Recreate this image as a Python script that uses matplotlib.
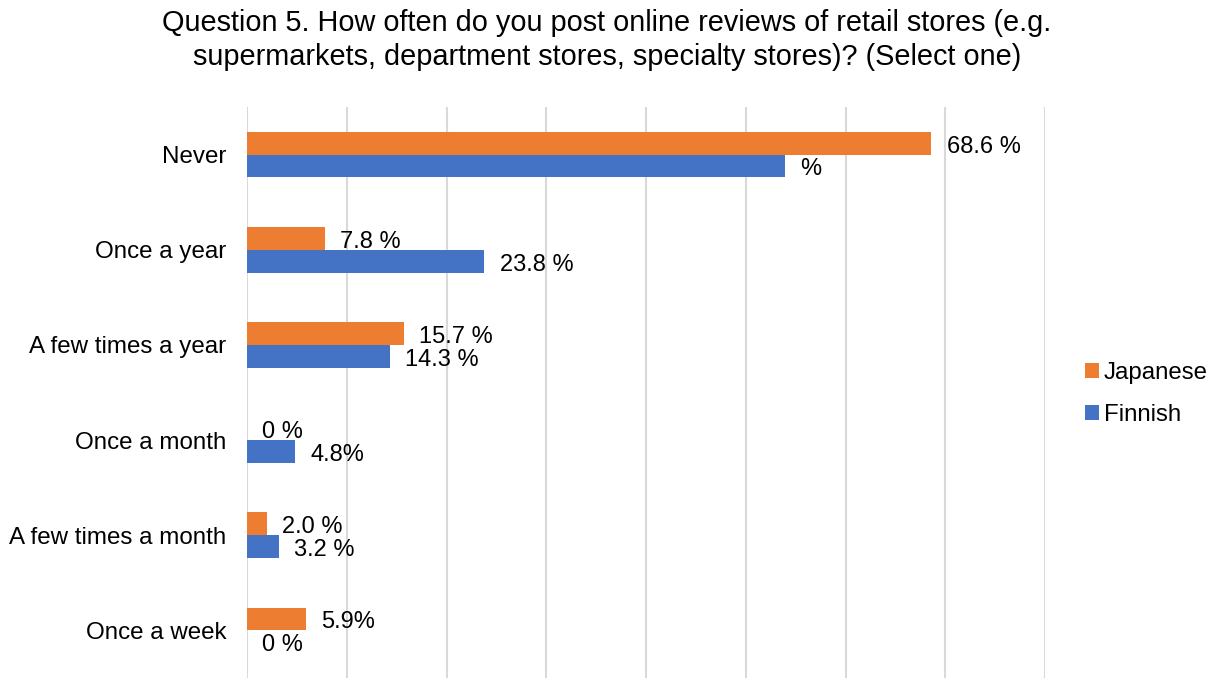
import matplotlib
matplotlib.use("Agg")
import matplotlib.pyplot as plt
import numpy as np

plt.rcParams['font.family'] = ['Liberation Sans', 'DejaVu Sans']

# respuestas a la pregunta 5
categorias = ["Never", "Once a year", "A few times a year", "Once a month",
              "A few times a month", "Once a week"]
japoneses = [68.6, 7.8, 15.7, 0.0, 2.0, 5.9]
finlandeses = [53.9, 23.8, 14.3, 4.8, 3.2, 0.0]

# etiquetas tal como aparecen en el grafico
etiquetas_jp = ["68.6 %", "7.8 %", "15.7 %", "0 %", "2.0 %", "5.9%"]
etiquetas_fi = ["%", "23.8 %", "14.3 %", "4.8%", "3.2 %", "0 %"]

naranja = "#ED7D31"
azul = "#4472C4"

fig = plt.figure(figsize=(12.14, 6.78), dpi=100)
ax = fig.add_axes([247 / 1214, 0.0, (1045 - 247) / 1214, 1 - 107 / 678])

y = np.arange(len(categorias))
alto = 0.24

ax.barh(y - alto / 2, japoneses, height=alto, color=naranja, label="Japanese", zorder=3)
ax.barh(y + alto / 2, finlandeses, height=alto, color=azul, label="Finnish", zorder=3)

# etiquetas de datos al final de cada barra
for i in range(len(categorias)):
    ax.annotate(etiquetas_jp[i], (japoneses[i], y[i] - alto / 2), xytext=(11, -2.5),
                textcoords="offset points", va="center", ha="left", fontsize=17)
    ax.annotate(etiquetas_fi[i], (finlandeses[i], y[i] + alto / 2), xytext=(11, -2.5),
                textcoords="offset points", va="center", ha="left", fontsize=17)

ax.set_xlim(0, 80)
ax.set_ylim(len(categorias) - 0.5, -0.5)
ax.set_xticks(np.arange(0, 81, 10))
ax.xaxis.grid(True, color="#D9D9D9", linewidth=1.5, zorder=0)
ax.tick_params(axis="x", labelbottom=False, length=0)
ax.tick_params(axis="y", length=0, pad=15)
ax.set_yticks(y)
ax.set_yticklabels(categorias, fontsize=17.4)
for lado in ["top", "right", "bottom", "left"]:
    ax.spines[lado].set_visible(False)

fig.text(0.5, 1 - 40 / 678,
         "Question 5. How often do you post online reviews of retail stores (e.g.\n"
         "supermarkets, department stores, specialty stores)? (Select one)",
         fontsize=20.8, ha="center", va="center", linespacing=1.25)

fig.legend(loc="center left", bbox_to_anchor=(1063 / 1214, 1 - 394 / 678), frameon=False,
           fontsize=17.3, handlelength=0.6, handleheight=0.6, handletextpad=0.2,
           labelspacing=0.85)

fig.savefig("out.png", dpi=100)
